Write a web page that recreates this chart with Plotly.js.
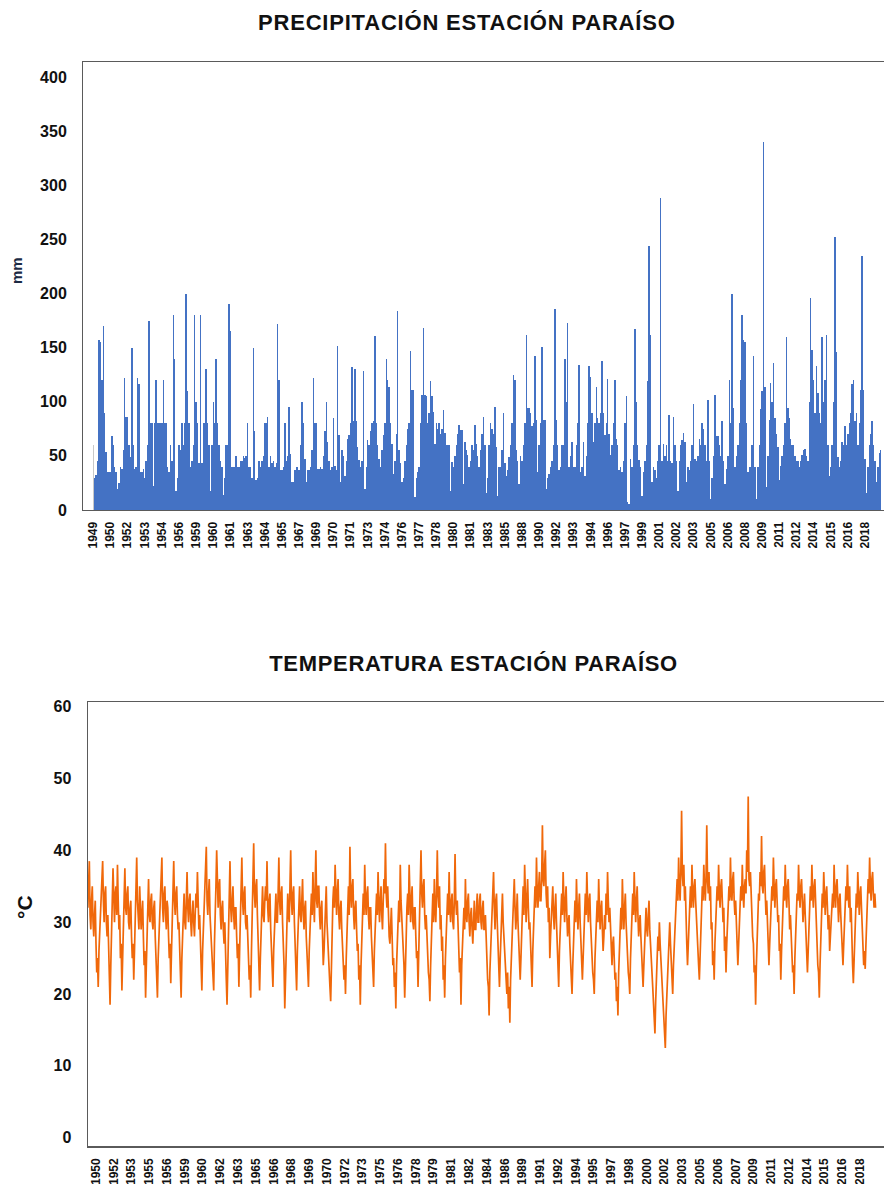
<!DOCTYPE html>
<html>
<head>
<meta charset="utf-8">
<script src="https://cdn.plot.ly/plotly-3.0.1.min.js"></script>
<style>
html,body{margin:0;padding:0;background:#fff;overflow:hidden}
g.annotation[data-index="0"] text{letter-spacing:0.8px}
g.annotation[data-index="1"] text{letter-spacing:0.7px}
</style>
</head>
<body>
<div id="chart" style="width:884px;height:1184px"></div>
<script>
// ---------- DATA ----------
const precipTickLabels = ['1949','1950','1952','1953','1954','1956','1959','1960','1961','1963','1964','1965','1967','1969','1970','1971','1973','1974','1976','1977','1978','1980','1981','1983','1985','1988','1990','1992','1993','1994','1996','1997','1999','2001','2002','2003','2005','2006','2008','2009','2011','2012','2014','2015','2016','2018'];

// monthly precipitation (mm), 12 values per labelled interval
const precipitation = [
60,30,32,45,157,155,120,170,90,54,35,35,
35,68,60,40,35,19,25,40,38,55,122,86,
86,60,49,150,60,38,40,122,116,35,35,38,
30,45,60,175,80,80,22,80,120,80,80,80,
80,120,80,80,40,35,60,45,180,140,18,30,
60,55,80,60,80,200,110,80,40,45,60,180,
100,80,43,180,43,80,80,130,80,60,18,60,
100,80,140,80,60,45,40,14,30,60,60,190,
165,40,40,40,50,40,40,45,45,50,48,50,
80,40,40,30,150,73,28,30,45,40,45,50,
80,80,86,40,50,43,45,40,43,172,120,37,
37,40,80,45,50,95,52,26,26,37,40,40,
37,60,100,80,47,26,37,37,40,55,122,80,
80,38,38,40,38,50,73,100,63,45,37,40,
85,41,37,152,69,26,55,50,31,45,66,69,
80,132,82,130,82,58,46,40,45,128,19,40,
65,60,73,80,82,161,80,60,47,40,55,69,
80,140,120,114,80,61,33,45,70,184,55,43,
26,30,45,60,75,80,147,111,111,12,30,35,
40,80,106,168,106,105,80,90,119,105,91,61,
80,75,80,70,75,92,71,60,60,60,18,44,
40,50,60,70,79,74,74,24,63,55,51,40,
45,60,55,79,61,50,40,55,70,86,60,16,
30,60,80,75,70,95,58,13,40,40,55,90,
43,31,37,49,60,80,125,120,55,45,24,50,
45,60,80,162,94,94,90,78,80,142,83,35,
60,80,151,83,83,19,30,33,40,45,60,186,
83,60,37,40,60,60,140,100,173,40,50,63,
40,40,60,80,134,35,40,63,31,50,80,133,
123,90,63,80,114,85,80,90,138,90,69,80,
121,70,51,60,80,120,66,60,37,40,35,45,
80,105,7,6,47,40,60,167,100,60,46,40,
13,35,45,60,119,244,162,26,40,37,30,45,
60,288,45,61,50,60,45,88,45,43,86,60,
45,18,45,60,65,71,63,26,40,37,45,60,
98,47,45,50,66,60,80,75,60,45,102,45,
10,30,50,106,68,68,60,50,82,45,24,38,
50,120,80,200,94,40,50,60,80,120,180,157,
155,80,35,40,40,60,142,40,10,40,60,93,
110,340,114,21,50,83,117,100,136,85,70,58,
28,41,50,60,80,160,94,85,66,60,60,50,
45,45,40,45,51,55,56,50,45,100,196,148,
120,90,133,108,90,80,160,100,120,162,60,31,
40,60,100,252,146,49,40,45,63,60,78,60,
70,80,90,116,120,82,90,60,80,111,235,111,
47,16,40,60,70,82,60,45,26,40,53,55
];

const tempTickLabels = ['1950','1952','1953','1955','1956','1959','1960','1962','1963','1965','1966','1968','1969','1970','1972','1973','1975','1976','1978','1979','1981','1982','1984','1986','1989','1991','1992','1994','1995','1997','1998','2000','2002','2003','2005','2006','2007','2009','2011','2012','2014','2015','2016','2018'];

// temperature (°C), 24 readings per labelled interval
const temperature = [
32,35,38.5,31,29,33,35,30,28,31,33,27,23,25,21,26,29,32,34,36,38.5,33,30,34,
35,30,28,31,25,22,18.5,24,27,33,37.5,32,30,34,35,31,38,33,29,31,25,27,20.5,25,
29,34,37.5,32,31,34,35,30,29,32,33,28,25,27,22,26,30,35,39,33,31,29,35,32,
29,31,33,28,24,26,19.5,24,29,32,36,31,30,33,34,30,29,32,33,28,25,23,19.5,25,
28,31,33,35,39,32,30,34,35,31,29,33,32,28,25,27,21.5,26,30,34,38.5,33,31,34,
35,31,29,30,26,23,19.5,25,29,32,34,30,29,33,37,32,30,33,34,30,28,31,33,30,
28,31,34,32,37,33,29,31,26,24,20.5,26,29,32,34,36,40.5,33,31,34,36,31,29,27,
25,23,20.5,27,30,35,40,33,32,35,36,31,29,32,33,29,27,30,24,22,18.5,24,28,33,
38.5,32,30,33,35,31,29,32,32,28,25,27,21,26,30,34,39,33,31,34,35,30,29,31,
27,25,22,24,19.5,26,31,35,41,34,32,35,36,31,28,26,20.5,25,30,33,35,31,30,33,
35,33,38.5,32,30,33,34,29,26,24,21,26,29,32,34,30,30,34,39,33,31,34,35,30,
28,24,18,23,28,31,34,31,30,35,40,33,31,34,35,30,27,25,20.5,26,29,32,35,31,
30,33,36,31,29,32,33,28,25,24,21,26,29,32,34,31,37,33,30,35,40,33,32,35,
35,31,29,32,33,28,24,26,29,33,35,30,27,25,23,21,19,25,30,33,35,32,38,33,
31,34,36,31,29,32,33,29,26,24,22,24,20,25,30,33,35,31,40.5,34,32,35,36,31,
29,32,33,29,26,27,22,24,18.5,24,29,32,34,31,38,33,31,34,35,31,29,32,32,28,
25,23,21,26,29,32,34,31,37,33,30,33,35,31,29,33,36,34,41,34,32,35,30,28,
27,30,32,28,24,25,21,23,18,24,28,31,33,30,38,33,31,29,26,24,19.5,25,29,32,
34,31,38,33,30,33,35,30,29,32,32,28,25,26,21,26,30,34,40,34,32,35,36,31,
29,31,27,26,23,22,19,24,28,31,34,30,36,32,30,34,40,34,32,35,29,31,26,28,
22,24,19.5,25,29,32,34,31,37,32,30,33,34,30,29,33,39.5,33,31,33,28,26,23,25,
18.5,24,27,31,32,29,36,31,30,33,34,30,28,31,32,29,27,30,33,29,29,32,34,30,
30,33,34,30,29,32,33,29,29,31,27,25,22,21,17,23,26,29,31,34,37,32,29,33,
34,30,26,24,21,25,29,32,34,30,28,27,24,22,20,23,18,21,16,22,25,28,30,33,
36,32,29,31,34,30,27,25,22,25,29,32,35,31,38,34,30,33,36,32,29,30,26,24,
21,26,30,33,35,32,39,34,32,35,37,33,33,36,43.5,36,35,38,40,34,32,35,30,32,
25,28,31,34,35,31,29,32,34,30,27,25,21,26,28,31,34,31,37,33,30,33,35,31,
28,30,31,27,24,23,20,24,28,31,33,30,36,32,29,32,34,30,27,25,22,25,29,32,
34,31,37,33,30,33,34,30,27,26,23,22,20,25,28,31,33,30,36,32,29,32,33,29,
26,28,31,29,34,31,37,33,30,32,29,27,24,27,28,25,22,23,19,21,17,23,27,30,
32,29,36,32,29,32,34,30,27,26,23,22,20,25,28,31,34,31,37,33,30,33,35,31,
28,30,31,28,25,24,21,24,27,30,32,29,28,31,33,29,26,25,23,21,19,17,14.5,19,
22,25,28,26,30,27,25,23,21,19,16,15,12.5,17,20,23,26,28,30,27,24,22,20,24,
27,30,31,34,36,33,39,35,33,37,45.5,37,35,38,33,35,28,27,24,27,30,33,35,32,
38,34,32,35,36,33,30,28,25,24,22,26,30,33,35,33,38,35,33,36,43.5,36,34,37,
33,35,29,30,24,26,22,27,31,34,35,33,38,34,32,35,36,33,30,32,26,28,23,27,
31,34,35,33,39,34,33,36,37,33,31,33,28,27,24,27,30,33,35,33,38,34,32,35,
36,34,40,37,47.5,36,35,37,33,31,28,27,23,24,18.5,24,28,31,34,33,37,35,42,35,
34,37,38,34,31,33,29,28,24,27,30,33,35,33,39,35,32,35,36,33,30,31,26,27,
22,26,30,33,35,33,38,34,32,35,36,33,29,31,27,26,23,24,20,25,28,31,34,33,
38,34,32,35,36,33,30,32,34,31,27,26,23,26,30,33,35,33,38,34,32,35,36,33,
29,27,24,23,19.5,24,28,31,34,32,37,34,31,34,35,32,29,31,26,28,30,33,34,32,
38,34,32,35,36,33,30,33,34,31,28,27,24,27,30,33,35,33,38,34,32,35,30,32,
25,24,21.5,25,29,32,34,32,37,34,31,34,35,32,29,27,24,26,23.5,27,31,34,36,34,
39,35,33,36,37,34,32,34,32
];

const precipYTicks = [0,50,100,150,200,250,300,350,400];
const tempYTicks = [0,10,20,30,40,50,60];

// ---------- BUILD ----------
const W = 884, H = 1184;
const FONT = '"Liberation Sans", Arial, Helvetica, sans-serif';
const TXT = '#111111';
const BLUE = '#4472C4';
const GREY = '#C8C8C8';
const ORANGE = '#F0680A';
const FRAME = '#5a5a5a';

const precipX = precipitation.map((_, i) => i);
const precipColors = precipitation.map((_, i) => i === 0 ? GREY : BLUE);
const precipTickVals = precipTickLabels.map((_, k) => k * 12);

const tempX = temperature.map((_, i) => i);
const tempTickVals = tempTickLabels.map((_, k) => 11 + k * 24);

const traces = [
  {
    type: 'bar', x: precipX, y: precipitation, xaxis: 'x', yaxis: 'y',
    marker: {color: precipColors, line: {width: 0}}, hoverinfo: 'skip'
  },
  {
    type: 'scatter', mode: 'lines', x: tempX, y: temperature, xaxis: 'x2', yaxis: 'y2',
    line: {color: ORANGE, width: 1.7}, hoverinfo: 'skip'
  }
];

const tickFontX = {family: FONT, size: 12, color: TXT, weight: 700};
const tickFontY = {family: FONT, size: 16, color: TXT, weight: 700};

const layout = {
  width: W, height: H,
  margin: {l: 0, r: 0, t: 0, b: 0},
  paper_bgcolor: '#ffffff', plot_bgcolor: '#ffffff',
  showlegend: false, bargap: 0,
  font: {family: FONT, color: TXT},
  xaxis: {
    domain: [83 / W, 1], range: [-7.2, 553.3], anchor: 'y',
    tickmode: 'array', tickvals: precipTickVals, ticktext: precipTickLabels,
    tickangle: -90, tickfont: tickFontX, ticks: '', ticklabelstandoff: 6,
    showline: true, mirror: true, linecolor: FRAME, linewidth: 1,
    showgrid: false, zeroline: false, fixedrange: true
  },
  yaxis: {
    domain: [1 - 510 / H, 1 - 62 / H], range: [0, 414], anchor: 'x',
    tickmode: 'array', tickvals: precipYTicks, tickfont: tickFontY,
    ticks: '', ticklabelstandoff: 12,
    showline: true, mirror: false, linecolor: FRAME, linewidth: 1,
    showgrid: false, zeroline: false, fixedrange: true
  },
  xaxis2: {
    domain: [88 / W, 1], range: [0.2, 1075.4], anchor: 'y2',
    tickmode: 'array', tickvals: tempTickVals, ticktext: tempTickLabels,
    tickangle: -90, tickfont: tickFontX, ticks: '', ticklabelstandoff: 6,
    showline: true, mirror: true, linecolor: FRAME, linewidth: 1.5,
    showgrid: false, zeroline: false, fixedrange: true
  },
  yaxis2: {
    domain: [1 - 1146 / H, 1 - 702 / H], range: [-1.15, 60.65], anchor: 'x2',
    tickmode: 'array', tickvals: tempYTicks, tickfont: tickFontY,
    ticks: '', ticklabelstandoff: 12,
    showline: true, mirror: false, linecolor: FRAME, linewidth: 1.5,
    showgrid: false, zeroline: false, fixedrange: true
  },
  annotations: [
    {text: 'PRECIPITACIÓN ESTACIÓN PARAÍSO', xref: 'paper', yref: 'paper',
     x: 467 / W, y: 1 - 23 / H, xanchor: 'center', yanchor: 'middle', showarrow: false,
     font: {family: FONT, size: 22, color: TXT, weight: 700}},
    {text: 'TEMPERATURA ESTACIÓN PARAÍSO', xref: 'paper', yref: 'paper',
     x: 473 / W, y: 1 - 663 / H, xanchor: 'center', yanchor: 'middle', showarrow: false,
     font: {family: FONT, size: 22, color: TXT, weight: 700}},
    {text: 'mm', xref: 'paper', yref: 'paper', textangle: -90,
     x: 17 / W, y: 1 - 271 / H, xanchor: 'center', yanchor: 'middle', showarrow: false,
     font: {family: FONT, size: 15, color: '#1c2a44', weight: 700}},
    {text: '°C', xref: 'paper', yref: 'paper', textangle: -90,
     x: 24 / W, y: 1 - 907 / H, xanchor: 'center', yanchor: 'middle', showarrow: false,
     font: {family: FONT, size: 21, color: TXT, weight: 700}}
  ]
};

Plotly.newPlot('chart', traces, layout, {staticPlot: true, displayModeBar: false});
</script>
</body>
</html>
